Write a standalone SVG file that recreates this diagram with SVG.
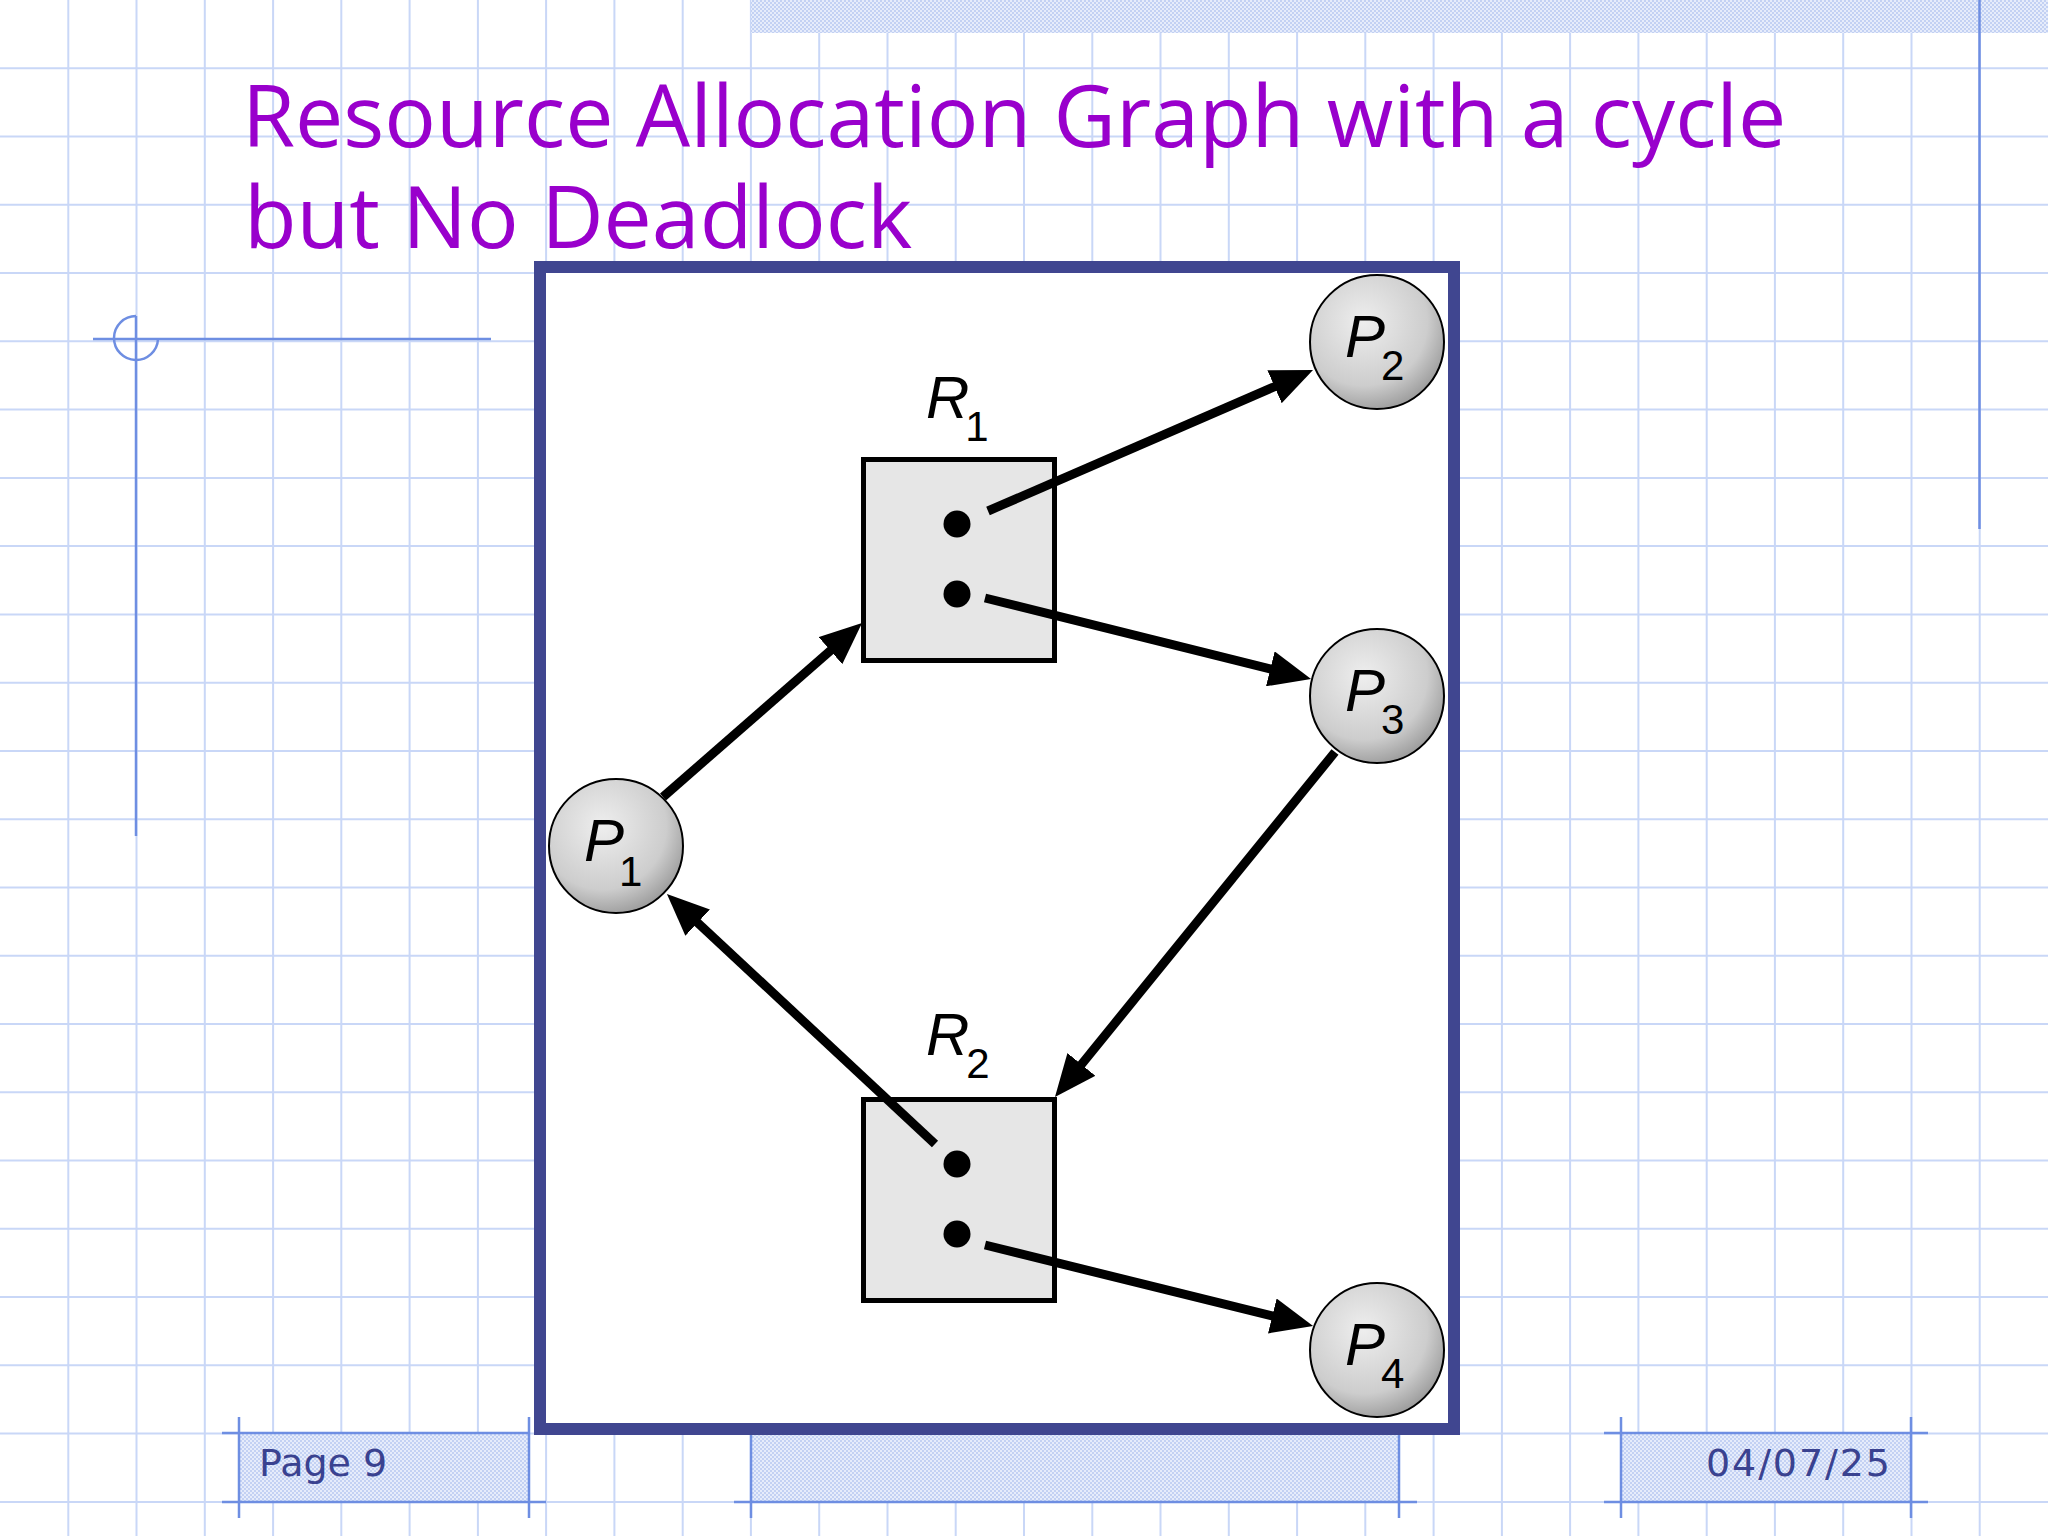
<svg xmlns="http://www.w3.org/2000/svg" width="2048" height="1536" viewBox="0 0 2048 1536">
<defs>
<style>
.grid{stroke:#C9D7F7;stroke-width:2;fill:none}
.deco{stroke:#6E8EE2;stroke-width:2.5;fill:none}
.title{font-family:"Open Sans","Noto Sans",sans-serif;font-size:86px;fill:#9900CC}
.foot{font-family:"Comic Sans MS","DejaVu Sans","Liberation Sans",sans-serif;font-size:38px;fill:#3A4290}
.proc{fill:url(#ball);stroke:#000;stroke-width:2}
.res{fill:#E6E6E6;stroke:#000;stroke-width:5}
.dot{fill:#000}
.lbl{font-family:"Liberation Sans",Arial,Helvetica,sans-serif;font-style:italic;font-size:60px;fill:#000}
.sub{font-style:normal;font-size:42px}
.edge{stroke:#000;stroke-width:9;fill:none;marker-end:url(#ah)}
</style>
<pattern id="hatch" width="4" height="4" patternUnits="userSpaceOnUse">
<rect width="4" height="4" fill="#E6ECFB"/>
<rect width="2" height="2" fill="#C3D1F3"/>
<rect x="2" y="2" width="2" height="2" fill="#C3D1F3"/>
</pattern>
<radialGradient id="ball" cx="0.4" cy="0.35" r="0.68">
<stop offset="0" stop-color="#EEEEEE"/>
<stop offset="0.7" stop-color="#CDCDCD"/>
<stop offset="1" stop-color="#9C9C9C"/>
</radialGradient>
<marker id="ah" viewBox="0 0 42 36" refX="11" refY="18" markerWidth="42" markerHeight="36" markerUnits="userSpaceOnUse" orient="auto">
<path d="M0 0L42 18L0 36z" fill="#000"/>
</marker>
</defs>

<g id="background">
<rect width="2048" height="1536" fill="#FFFFFF"/>
<path class="grid" d="M68.3 0V1536M136.5 0V1536M204.8 0V1536M273.1 0V1536M341.3 0V1536M409.6 0V1536M477.9 0V1536M546.1 0V1536M614.4 0V1536M682.7 0V1536M750.9 0V1536M819.2 0V1536M887.5 0V1536M955.7 0V1536M1024 0V1536M1092.3 0V1536M1160.5 0V1536M1228.8 0V1536M1297.1 0V1536M1365.3 0V1536M1433.6 0V1536M1501.9 0V1536M1570.1 0V1536M1638.4 0V1536M1706.7 0V1536M1774.9 0V1536M1843.2 0V1536M1911.5 0V1536M1979.7 0V1536M0 68.3H2048M0 136.5H2048M0 204.8H2048M0 273.1H2048M0 341.3H2048M0 409.6H2048M0 477.9H2048M0 546.1H2048M0 614.4H2048M0 682.7H2048M0 750.9H2048M0 819.2H2048M0 887.5H2048M0 955.7H2048M0 1024H2048M0 1092.3H2048M0 1160.5H2048M0 1228.8H2048M0 1297.1H2048M0 1365.3H2048M0 1433.6H2048M0 1501.9H2048"/>
<rect x="751" y="0" width="1297" height="33" fill="url(#hatch)"/>
<path class="deco" d="M1979.5 0V529"/>
<path class="deco" d="M93 339H491M136 316V836"/>
<path class="deco" d="M136 316A22 22 0 1 0 158 339"/>
<rect x="239" y="1433" width="290" height="69" fill="url(#hatch)"/>
<rect x="751" y="1433" width="648" height="69" fill="url(#hatch)"/>
<rect x="1621" y="1433" width="290" height="69" fill="url(#hatch)"/>
<path class="deco" d="M222 1433H529M222 1502H546M239 1417V1518M529 1417V1518"/>
<path class="deco" d="M734 1502H1417M751 1433V1518M1399 1433V1518"/>
<path class="deco" d="M1604 1433H1928M1604 1502H1928M1621 1417V1518M1911 1417V1518"/>
<text class="foot" x="259" y="1476">Page 9</text>
<text class="foot" x="1890" y="1476" text-anchor="end" textLength="184" lengthAdjust="spacing">04/07/25</text>
<text class="title"><tspan x="242" y="147">Resource Allocation Graph with a cycle</tspan><tspan x="244" y="248">but No Deadlock</tspan></text>
<rect x="540" y="267" width="914" height="1162" fill="#FFFFFF" stroke="#404690" stroke-width="12"/>
</g>

<g id="R1">
<rect class="res" x="863.5" y="459.5" width="191" height="201"/>
<circle class="dot" cx="957" cy="524" r="13.5"/>
<circle class="dot" cx="957" cy="594" r="13.5"/>
<text class="lbl" x="926" y="418">R<tspan class="sub" dx="-4" dy="23">1</tspan></text>
</g>
<g id="R2">
<rect class="res" x="863.5" y="1099.5" width="191" height="201"/>
<circle class="dot" cx="957" cy="1164" r="13.5"/>
<circle class="dot" cx="957" cy="1234" r="13.5"/>
<text class="lbl" x="926" y="1055">R<tspan class="sub" dx="-3" dy="23">2</tspan></text>
</g>
<g id="P1">
<circle class="proc" cx="616" cy="846" r="67"/>
<text class="lbl" x="584" y="861">P<tspan class="sub" dx="-5" dy="25">1</tspan></text>
</g>
<g id="P2">
<circle class="proc" cx="1377" cy="342" r="67"/>
<text class="lbl" x="1345" y="357">P<tspan class="sub" dx="-4" dy="23">2</tspan></text>
</g>
<g id="P3">
<circle class="proc" cx="1377" cy="696" r="67"/>
<text class="lbl" x="1345" y="711">P<tspan class="sub" dx="-4" dy="23">3</tspan></text>
</g>
<g id="P4">
<circle class="proc" cx="1377" cy="1350" r="67"/>
<text class="lbl" x="1345" y="1365">P<tspan class="sub" dx="-4" dy="23">4</tspan></text>
</g>

<g id="edges">
<line class="edge" x1="663" y1="797" x2="838.7" y2="643.4"/>
<line class="edge" x1="988" y1="511" x2="1284.6" y2="382.3"/>
<line class="edge" x1="985" y1="598" x2="1281" y2="671.5"/>
<line class="edge" x1="1335" y1="752" x2="1074.5" y2="1073"/>
<line class="edge" x1="935" y1="1144" x2="689.6" y2="915.2"/>
<line class="edge" x1="985" y1="1245" x2="1283" y2="1318.6"/>
</g>
</svg>
